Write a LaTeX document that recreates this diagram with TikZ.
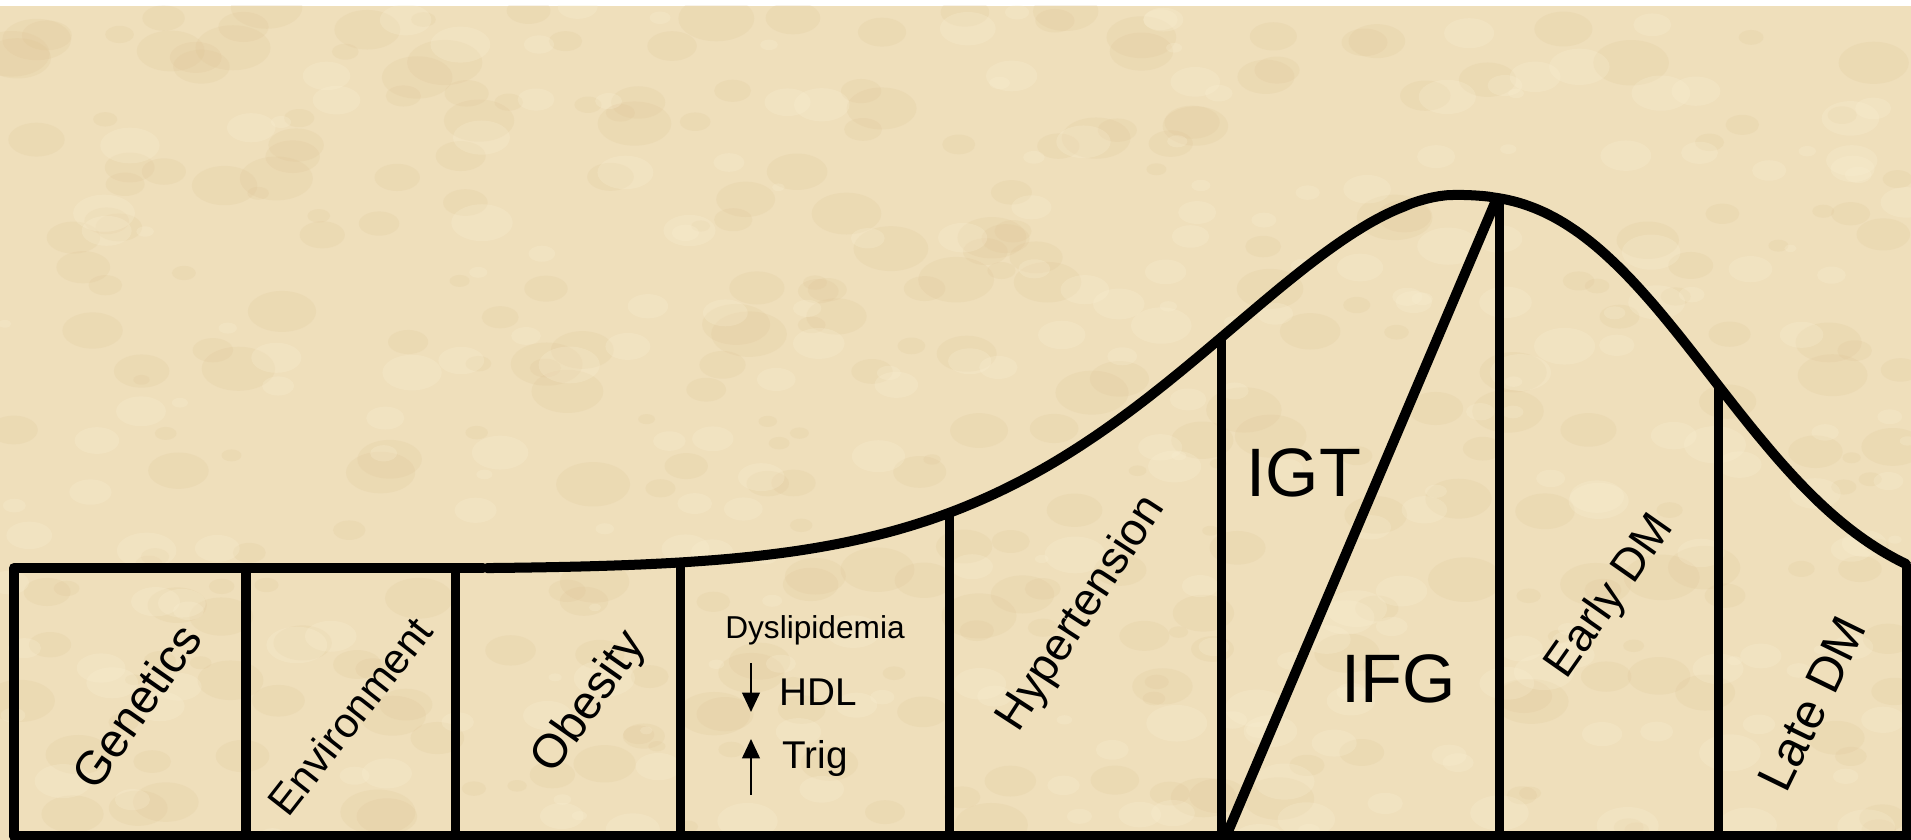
\documentclass[tikz,border=0pt]{standalone}
\usepackage{fontspec}
\setmainfont{Liberation Sans}
\usetikzlibrary{arrows.meta}
\definecolor{parch}{RGB}{239,223,187}
\definecolor{blotchdark}{RGB}{220,192,142}
\definecolor{blotchlight}{RGB}{250,240,212}
\begin{document}
\begin{tikzpicture}[x=0.01cm,y=-0.01cm,
  hline/.style={line width=0.1cm, line cap=round, line join=round},
  vline/.style={line width=0.09cm},
  curveline/.style={line width=0.1cm, line cap=round, line join=round},
  rotlabel/.style={rotate=55, font=\fontsize{13}{15}\selectfont, inner sep=0pt},
  biglabel/.style={font=\fontsize{19.5}{22}\selectfont, inner sep=0pt},
  midlabel/.style={font=\fontsize{11}{13}\selectfont, inner sep=0pt},
  smalllabel/.style={font=\fontsize{9}{11}\selectfont, inner sep=0pt},
  lipidarrow/.style={line width=0.65pt, -{Triangle[width=5pt,length=5.5pt]}}]
\useasboundingbox (0,0) rectangle (1911,840);
% background
\fill[white] (0,0) rectangle (1911,840);
\fill[parch] (0,6) rectangle (1911,840);
\begin{scope}
\clip (0,6) rectangle (1911,840);
\pgfmathsetseed{42}
\foreach \i in {1,...,320}{
  \pgfmathsetmacro\bx{rnd*1911}
  \pgfmathsetmacro\by{6+rnd*834}
  \pgfmathsetmacro\br{0.08+rnd*0.3}
  \fill[blotchdark, opacity=0.16] (\bx,\by) ellipse [x radius=\br cm, y radius=0.6*\br cm];
}
\foreach \i in {1,...,260}{
  \pgfmathsetmacro\bx{rnd*1911}
  \pgfmathsetmacro\by{6+rnd*834}
  \pgfmathsetmacro\br{0.06+rnd*0.25}
  \fill[blotchlight, opacity=0.25] (\bx,\by) ellipse [x radius=\br cm, y radius=0.6*\br cm];
}
\end{scope}
% key coordinates
\coordinate (tl) at (14,568);
\coordinate (bl) at (14,836);
\coordinate (br) at (1911,836);
\coordinate (flatend) at (483,568);
\coordinate (peak) at (1497,198);
\coordinate (diagfoot) at (1227,834);
% dividers tops and feet
\coordinate (d1t) at (246,568);  \coordinate (d1b) at (246,836);
\coordinate (d2t) at (455,568);  \coordinate (d2b) at (455,836);
\coordinate (d3t) at (680,563);  \coordinate (d3b) at (680,836);
\coordinate (d4t) at (949,513);  \coordinate (d4b) at (949,836);
\coordinate (d5t) at (1221,338); \coordinate (d5b) at (1221,836);
\coordinate (d6t) at (1499,198); \coordinate (d6b) at (1499,836);
\coordinate (d7t) at (1718,385); \coordinate (d7b) at (1718,836);
\coordinate (d8t) at (1906,564); \coordinate (d8b) at (1906,836);
% outline
\draw[hline] (bl) -- (tl) -- (flatend);
\draw[hline] (bl) -- (br);
\draw[curveline]
  plot[domain=487:1453, samples=140, variable=\t] (\t, {569-374*exp(-((1453.001-\t)/351)^1.77)})
  -- plot[domain=1453:1906, samples=90, variable=\t] (\t, {600-405*exp(-((\t-1452.999)/318)^2.5)});
% dividers
\foreach \d in {1,...,8}{
  \draw[vline] (d\d t) -- (d\d b);
}
\draw[hline] (diagfoot) -- (peak);
% labels
\node[rotlabel, font=\fontsize{13.5}{15}\selectfont] (gen) at (136,706) {Genetics};
\node[rotlabel, rotate=-3, font=\fontsize{12}{14}\selectfont] (env) at (350,716) {Environment};
\node[rotlabel, font=\fontsize{13.5}{15}\selectfont] (obe) at (590,703) {Obesity};
\node[rotlabel, rotate=2] (hyp) at (1082,614) {Hypertension};
\node[rotlabel] (edm) at (1611,597) {Early DM};
\node[rotlabel, rotate=9, font=\fontsize{14}{16}\selectfont] (ldm) at (1812,704) {Late DM};
\node[biglabel] (igt) at (1304,473) {IGT};
\node[biglabel] (ifg) at (1399,679) {IFG};
\node[smalllabel] (dys) at (815,630) {Dyslipidemia};
\node[midlabel, anchor=west] (hdl) at (779,692) {HDL};
\node[midlabel, anchor=west] (trig) at (782,758) {Trig};
\coordinate (dnA) at (751,663);
\coordinate (dnB) at (751,712);
\coordinate (upA) at (751,795);
\coordinate (upB) at (751,739);
\draw[lipidarrow] (dnA) -- (dnB);
\draw[lipidarrow] (upA) -- (upB);
\end{tikzpicture}
\end{document}
